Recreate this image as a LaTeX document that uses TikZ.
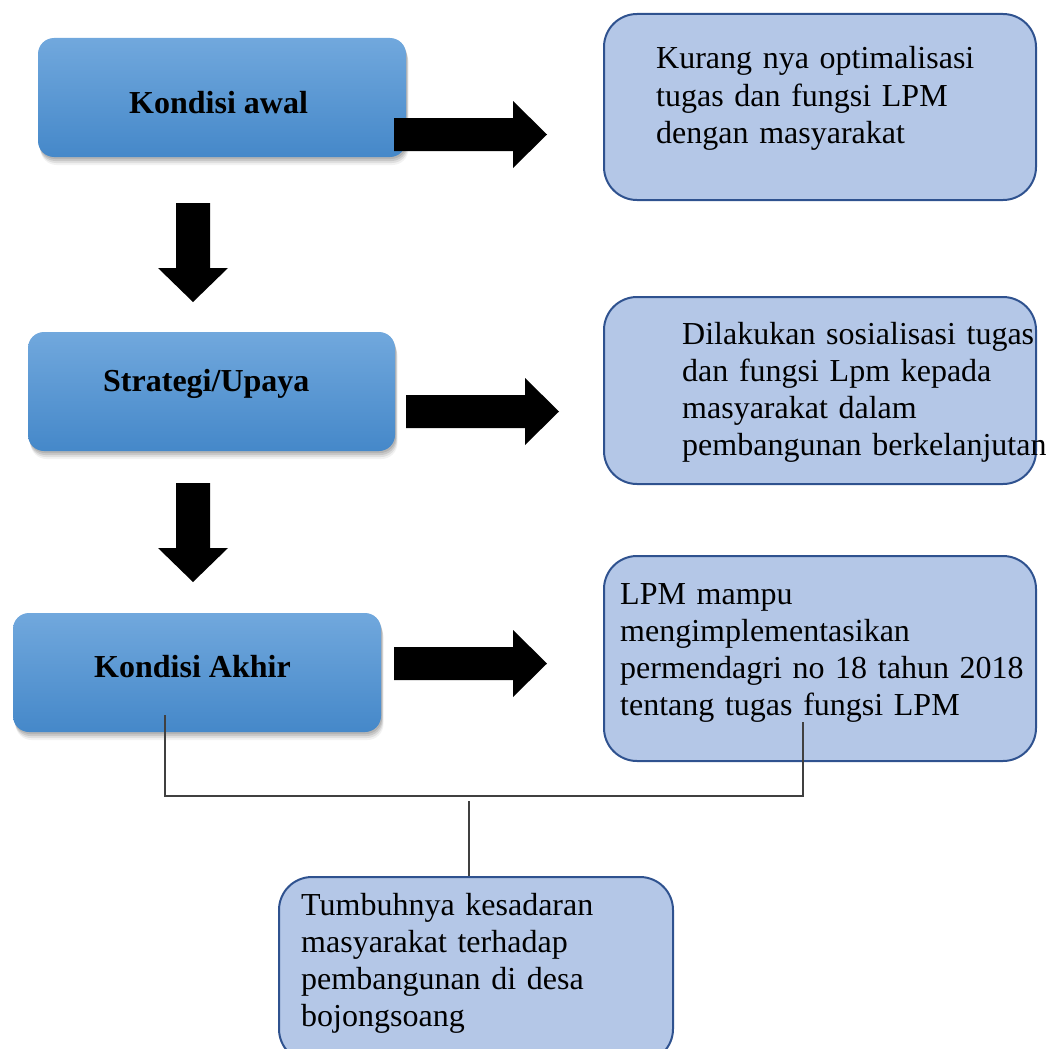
\documentclass[tikz,border=0pt]{standalone}
\usepackage{fontspec}
\setmainfont{Liberation Serif}
\usetikzlibrary{shadows,calc}
\definecolor{bluetop}{HTML}{71A8DD}
\definecolor{bluebot}{HTML}{4588C9}
\definecolor{lightfill}{HTML}{B4C7E7}
\definecolor{lightedge}{HTML}{2F528F}
\definecolor{linegray}{HTML}{404040}
\begin{document}
\begin{tikzpicture}[x=1pt,y=-1pt,
  bluebox/.style={rectangle, rounded corners=16pt, top color=bluetop, bottom color=bluebot,
    draw=none, inner sep=0pt, minimum height=119pt,
    general shadow={shadow xshift=1pt, shadow yshift=-2pt, fill=black, opacity=0.10},
    general shadow={shadow xshift=1.5pt, shadow yshift=-4pt, fill=black, opacity=0.10},
    general shadow={shadow xshift=2pt, shadow yshift=-6pt, fill=black, opacity=0.08},
    general shadow={shadow xshift=2.5pt, shadow yshift=-8pt, fill=black, opacity=0.05}},
  lightbox/.style={rectangle, rounded corners=33pt, fill=lightfill, draw=lightedge,
    line width=2pt, inner sep=0pt},
  boldlabel/.style={anchor=base west, inner sep=0pt, font=\fontsize{32}{37}\selectfont\bfseries},
  bodytext/.style={anchor=base west, inner sep=0pt, align=left, text width=430pt,
    font=\fontsize{32}{37}\selectfont},
  thinline/.style={draw=linegray, line width=1.3pt},
  rarrow/.pic={\fill[black] (0,-16.5) -- (119,-16.5) -- (119,-33.5) -- (153,0)
    -- (119,33.5) -- (119,16.5) -- (0,16.5) -- cycle;},
  darrow/.pic={\fill[black] (-17,0) -- (17,0) -- (17,65) -- (35,65) -- (0,99)
    -- (-35,65) -- (-17,65) -- cycle;}
]
\useasboundingbox (0,0) rectangle (1046,1049);
\clip (0,0) rectangle (1046,1049);

% left column boxes
\node[bluebox, minimum width=368pt] (k1) at (222,97.5) {};
\node[bluebox, minimum width=367pt] (k2) at (211.5,391.5) {};
\node[bluebox, minimum width=368pt] (k3) at (197,672.5) {};
\node[boldlabel] (k1t) at (129,113) {Kondisi awal};
\node[boldlabel] (k2t) at (103,391) {Strategi/Upaya};
\node[boldlabel] (k3t) at (94,677) {Kondisi Akhir};

% right column boxes
\node[lightbox, minimum width=432pt, minimum height=186pt] (a) at (820,107) {};
\node[lightbox, minimum width=432pt, minimum height=187pt] (b) at (820,390.5) {};
\node[lightbox, minimum width=432pt, minimum height=205pt] (c) at (820,658.5) {};
\node[lightbox, minimum width=394pt, minimum height=185pt] (d) at (476,969.5) {};

\node[bodytext] (at) at (656,69) {Kurang nya optimalisasi\\tugas dan fungsi LPM\\dengan masyarakat};
\node[bodytext] (bt) at (682,344) {Dilakukan sosialisasi tugas\\dan fungsi Lpm kepada\\masyarakat dalam\\pembangunan berkelanjutan};
\node[bodytext] (ct) at (620,604) {LPM mampu\\mengimplementasikan\\permendagri no 18 tahun 2018\\tentang tugas fungsi LPM};
\node[bodytext] (dt) at (301,915) {Tumbuhnya kesadaran\\masyarakat terhadap\\pembangunan di desa\\bojongsoang};

% block arrows
\pic at (394,134.5) {rarrow};
\pic at (406,411.5) {rarrow};
\pic at (394,663.5) {rarrow};
\pic at (193,203) {darrow};
\pic at (193,483) {darrow};

% thin connector lines
\coordinate (p1) at (165,715);
\coordinate (p2) at (803,722);
\coordinate (j) at (469,796);
\draw[thinline] (p1) |- (j) -| (p2);
\draw[thinline] ($(j)+(0,5)$) -- (j |- d.north);
\end{tikzpicture}
\end{document}
